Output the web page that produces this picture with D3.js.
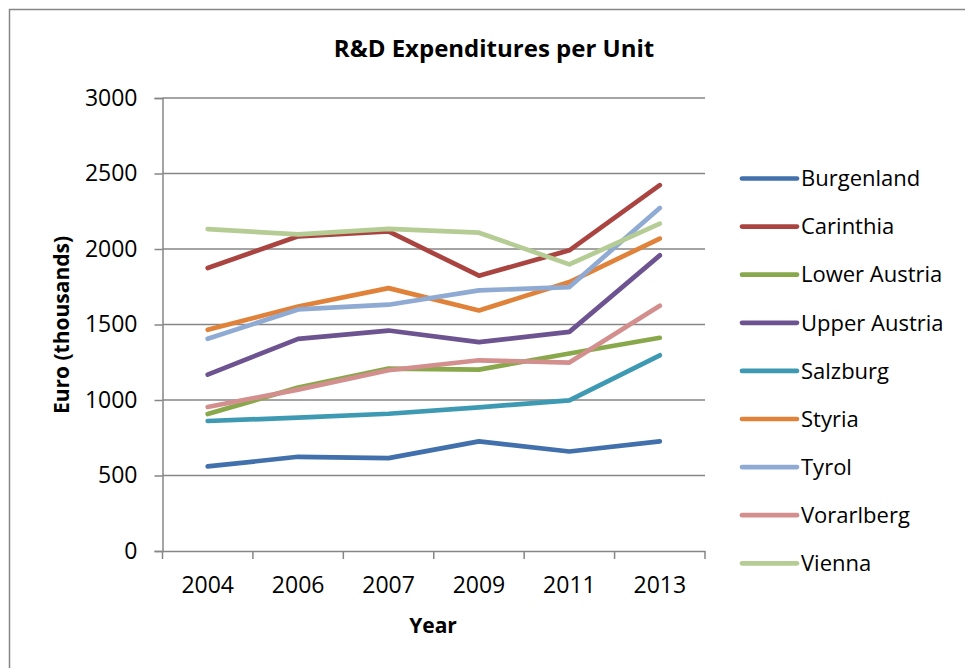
<!DOCTYPE html>
<html>
<head>
<meta charset="utf-8">
<script src="https://cdn.jsdelivr.net/npm/d3@7"></script>
<style>
  body { margin: 0; background: #fff; }
  svg { display: block; font-family: "Open Sans", sans-serif; }
  svg text { font-family: "Open Sans", sans-serif; }
</style>
</head>
<body>
<div id="chart"></div>
<script>
// data
const years = ["2004", "2006", "2007", "2009", "2011", "2013"];
const regions = ["Burgenland", "Carinthia", "Lower Austria", "Upper Austria", "Salzburg", "Styria", "Tyrol", "Vorarlberg", "Vienna"];
const burgenland = [560, 624, 615, 726, 659, 726];
const carinthia = [1874, 2084, 2117, 1823, 1991, 2423];
const lowerAustria = [907, 1082, 1208, 1201, 1308, 1412];
const upperAustria = [1168, 1405, 1460, 1383, 1451, 1958];
const salzburg = [861, 883, 909, 951, 998, 1296];
const styria = [1465, 1619, 1741, 1593, 1781, 2069];
const tyrol = [1405, 1600, 1631, 1726, 1748, 2272];
const vorarlberg = [954, 1069, 1197, 1263, 1248, 1624];
const vienna = [2131, 2097, 2133, 2108, 1898, 2168];
const yTicks = [0, 500, 1000, 1500, 2000, 2500, 3000];

const seriesValues = [burgenland, carinthia, lowerAustria, upperAustria, salzburg, styria, tyrol, vorarlberg, vienna];
const colors = ["#4170AC", "#AA4441", "#89A84B", "#6E5391", "#3E9AB3", "#E0823A", "#8FAAD3", "#D38F8D", "#B5CD95"];

const width = 965;
const height = 668;
const plot = { left: 162.5, right: 705, top: 98, bottom: 551 };
const gridColor = "#868686";

const svg = d3.select("#chart")
  .append("svg")
  .attr("width", width)
  .attr("height", height);

// chart frame (only top and left edges are visible)
svg.append("rect")
  .attr("x", 9.5)
  .attr("y", 9.5)
  .attr("width", 1000)
  .attr("height", 700)
  .attr("fill", "none")
  .attr("stroke", gridColor)
  .attr("stroke-width", 1.5);

const x = d3.scaleBand()
  .domain(years)
  .range([plot.left, plot.right]);

const y = d3.scaleLinear()
  .domain([0, 3000])
  .range([plot.bottom, plot.top]);

// gridlines + y ticks
const yAxis = svg.append("g")
  .attr("transform", `translate(${plot.left},0)`)
  .call(d3.axisLeft(y).tickValues(yTicks).tickFormat(d3.format("d")).tickSize(8).tickPadding(17));

yAxis.attr("font-family", null);
yAxis.select(".domain").attr("stroke", gridColor).attr("stroke-width", 1.5);
yAxis.selectAll(".tick line").attr("stroke", gridColor).attr("stroke-width", 1.5);
yAxis.selectAll(".tick text")
  .attr("fill", "#000")
  .style("font-size", "23px");

svg.append("g")
  .selectAll("line")
  .data(yTicks.filter(d => d > 0))
  .enter()
  .append("line")
  .attr("x1", plot.left)
  .attr("x2", plot.right)
  .attr("y1", d => y(d))
  .attr("y2", d => y(d))
  .attr("stroke", gridColor)
  .attr("stroke-width", 1.5);

// x axis with ticks at band edges
const xAxis = svg.append("g")
  .attr("transform", `translate(0,${plot.bottom})`)
  .call(d3.axisBottom(x).tickSize(0).tickPadding(26));

xAxis.attr("font-family", null);
xAxis.select(".domain").attr("stroke", gridColor).attr("stroke-width", 1.5);
xAxis.selectAll(".tick text")
  .attr("fill", "#000")
  .style("font-size", "23px");

xAxis.selectAll(".edge")
  .data(d3.range(years.length + 1))
  .enter()
  .append("line")
  .attr("x1", i => plot.left + i * x.step())
  .attr("x2", i => plot.left + i * x.step())
  .attr("y1", 0)
  .attr("y2", 8)
  .attr("stroke", gridColor)
  .attr("stroke-width", 1.5);

// series lines
const line = d3.line()
  .x((d, i) => x(years[i]) + x.bandwidth() / 2)
  .y(d => y(d));

svg.append("g")
  .selectAll("path")
  .data(seriesValues)
  .enter()
  .append("path")
  .attr("d", d => line(d))
  .attr("fill", "none")
  .attr("stroke", (d, i) => colors[i])
  .attr("stroke-width", 4.7)
  .attr("stroke-linecap", "round")
  .attr("stroke-linejoin", "round");

// title
svg.append("text")
  .attr("x", 494)
  .attr("y", 57)
  .attr("text-anchor", "middle")
  .style("font-size", "24px")
  .style("font-weight", "bold")
  .text("R&D Expenditures per Unit");

// axis titles
svg.append("text")
  .attr("x", 433)
  .attr("y", 633)
  .attr("text-anchor", "middle")
  .style("font-size", "21px")
  .style("font-weight", "bold")
  .text("Year");

svg.append("text")
  .attr("transform", "translate(69,325) rotate(-90)")
  .attr("text-anchor", "middle")
  .style("font-size", "21px")
  .style("font-weight", "bold")
  .text("Euro (thousands)");

// legend
const legend = svg.append("g")
  .selectAll("g")
  .data(regions)
  .enter()
  .append("g")
  .attr("transform", (d, i) => `translate(742,${178.5 + i * 48.1})`);

legend.append("line")
  .attr("x1", 0)
  .attr("x2", 55)
  .attr("stroke", (d, i) => colors[i])
  .attr("stroke-width", 4.7)
  .attr("stroke-linecap", "round");

legend.append("text")
  .attr("x", 59)
  .attr("dy", "0.35em")
  .style("font-size", "22px")
  .text(d => d);
</script>
</body>
</html>
